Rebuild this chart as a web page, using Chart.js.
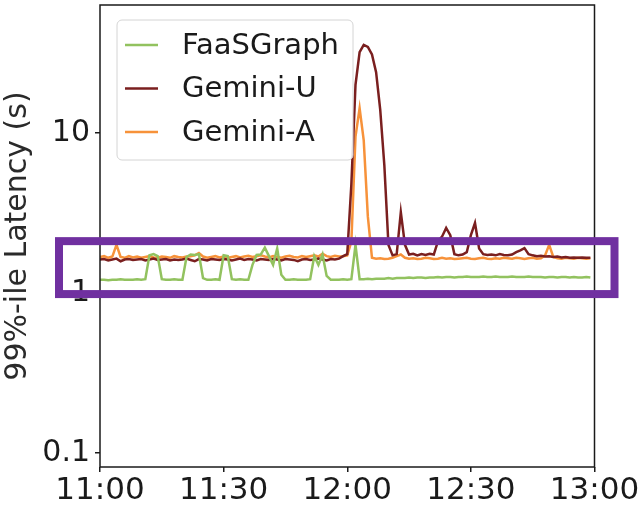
<!DOCTYPE html>
<html>
<head>
<meta charset="utf-8">
<script src="https://cdn.jsdelivr.net/npm/chart.js@4.4.1/dist/chart.umd.min.js"></script>
<style>
  html, body { margin: 0; padding: 0; background: #fff; }
  canvas { display: block; }
</style>
</head>
<body>
<canvas id="latencyChart" width="641" height="507"></canvas>
<script>
// minutes after 11:00, one sample per minute
const minutes = Array.from({ length: 120 }, (_, i) => i);

const faasGraph = [
  1.21, 1.21, 1.20, 1.21, 1.21, 1.22, 1.21, 1.21, 1.21, 1.22, 1.21,
  1.22, 1.72, 1.75, 1.70, 1.22,
  1.21, 1.21, 1.22, 1.21, 1.21,
  1.68, 1.74, 1.73, 1.75, 1.24,
  1.21, 1.21, 1.22, 1.21,
  1.72, 1.70, 1.22,
  1.21, 1.22, 1.21, 1.21,
  1.50, 1.73, 1.74, 1.92, 1.70, 1.50, 1.90, 1.30,
  1.21, 1.21, 1.22, 1.21, 1.21, 1.21, 1.22,
  1.70, 1.50, 1.74, 1.28,
  1.21, 1.21, 1.21, 1.22, 1.21, 1.22,
  2.00,
  1.22, 1.22, 1.23, 1.22, 1.23, 1.23, 1.23, 1.24, 1.23, 1.24,
  1.24, 1.24, 1.25, 1.24, 1.25, 1.25, 1.24, 1.25, 1.25, 1.26,
  1.25, 1.26, 1.26, 1.25, 1.26, 1.26, 1.27, 1.26, 1.26, 1.26,
  1.27, 1.26, 1.26, 1.27, 1.26, 1.26, 1.26, 1.27, 1.26, 1.26,
  1.26, 1.27, 1.26, 1.26, 1.26, 1.25, 1.26, 1.26, 1.25, 1.26,
  1.26, 1.25, 1.26, 1.25, 1.25, 1.26, 1.25
];

const geminiU = [
  1.62, 1.63, 1.60, 1.62, 1.64, 1.58, 1.62, 1.63, 1.61, 1.62,
  1.63, 1.60, 1.62, 1.64, 1.61, 1.62, 1.63, 1.60, 1.62, 1.61,
  1.62, 1.64, 1.61, 1.58, 1.63, 1.62, 1.60, 1.63, 1.62, 1.61,
  1.63, 1.62, 1.60, 1.62, 1.64, 1.61, 1.63, 1.62, 1.60, 1.63,
  1.62, 1.61, 1.63, 1.62, 1.60, 1.63, 1.62, 1.61, 1.58, 1.62,
  1.63, 1.61, 1.62, 1.64, 1.62, 1.60, 1.63, 1.62, 1.64, 1.70,
  1.75, 4.8, 20, 32, 35.5, 34.5, 31, 24, 14, 6.3,
  2.0, 1.72, 1.75, 3.2, 2.0, 1.74, 1.76, 1.72, 1.75, 1.73,
  1.76, 1.74, 2.1, 2.25, 2.55, 2.3, 1.75, 1.72, 1.74, 1.80,
  2.3, 2.74, 1.90, 1.75, 1.73, 1.74, 1.72, 1.75, 1.73, 1.72,
  1.74, 1.80, 1.85, 1.91, 1.75, 1.72, 1.70, 1.71, 1.69, 1.70,
  1.68, 1.69, 1.67, 1.68, 1.66, 1.67, 1.66, 1.67, 1.66, 1.66
];

const geminiA = [
  1.68, 1.70, 1.66, 1.69, 2.00, 1.68, 1.66, 1.70, 1.67, 1.69,
  1.66, 1.68, 1.70, 1.67, 1.66, 1.69, 1.68, 1.66, 1.70, 1.68,
  1.67, 1.69, 1.70, 1.72, 1.78, 1.69, 1.66, 1.68, 1.70, 1.67,
  1.69, 1.66, 1.68, 1.70, 1.67, 1.69, 1.71, 1.68, 1.70, 1.72,
  1.69, 1.67, 1.70, 1.68, 1.66, 1.69, 1.71, 1.68, 1.67, 1.70,
  1.68, 1.70, 1.72, 1.69, 1.76, 1.70, 1.68, 1.71, 1.69, 1.70,
  1.72, 2.1, 9.5, 14.3, 9.0, 3.0, 1.66, 1.64, 1.65, 1.63,
  1.64, 1.66, 1.70, 1.74, 1.66, 1.64, 1.65, 1.63, 1.64, 1.66,
  1.65, 1.63, 1.64, 1.66, 1.64, 1.65, 1.63, 1.64, 1.65, 1.66,
  1.64, 1.63, 1.65, 1.66, 1.64, 1.63, 1.65, 1.64, 1.66, 1.65,
  1.64, 1.66, 1.65, 1.63, 1.65, 1.66, 1.64, 1.65, 1.72, 2.00,
  1.68, 1.65, 1.64, 1.66, 1.65, 1.64, 1.66, 1.65, 1.64, 1.65
];

const seriesNames = ['FaaSGraph', 'Gemini-U', 'Gemini-A'];
const seriesColors = ['#92c25f', '#7a1f1f', '#f7923a'];
const xTicks = [0, 30, 60, 90, 120];
const yTicks = [0.1, 1, 10];
// purple highlight drawn over the plot, in latency units
const highlightRange = [0.985, 2.11];

const font = 'DejaVu Sans';
Chart.defaults.font.family = font;
Chart.defaults.color = '#1a1a1a';

const toPoints = vals => vals.map((v, i) => ({ x: minutes[i], y: v }));

// matplotlib-like frame, legend in the corner and the purple box
const overlay = {
    id: 'overlay',
    afterDatasetsDraw(chart) {
        const { ctx, chartArea: a } = chart;
        ctx.save();
        ctx.strokeStyle = '#1a1a1a';
        ctx.lineWidth = 1.5;
        ctx.strokeRect(a.left, a.top, a.right - a.left, a.bottom - a.top);

        // legend
        const lx = a.left + 17, ly = a.top + 15;
        ctx.beginPath();
        ctx.roundRect(lx, ly, 236, 140, 5);
        ctx.fillStyle = 'rgba(255,255,255,0.85)';
        ctx.fill();
        ctx.strokeStyle = '#d4d4d4';
        ctx.lineWidth = 1;
        ctx.stroke();
        ctx.font = '29px ' + font;
        ctx.textBaseline = 'middle';
        chart.data.datasets.forEach((ds, i) => {
            const y = ly + 25 + i * 43.5;
            ctx.strokeStyle = ds.borderColor;
            ctx.lineWidth = 2.5;
            ctx.beginPath();
            ctx.moveTo(lx + 8, y);
            ctx.lineTo(lx + 41, y);
            ctx.stroke();
            ctx.fillStyle = '#1a1a1a';
            ctx.fillText(ds.label, lx + 65, y + 1);
        });

        // highlight box
        const ys = chart.scales.y;
        const top = ys.getPixelForValue(highlightRange[1]);
        const bottom = ys.getPixelForValue(highlightRange[0]);
        ctx.strokeStyle = '#7030a0';
        ctx.lineWidth = 8;
        ctx.strokeRect(a.left - 41, top, a.right - a.left + 61, bottom - top);
        ctx.restore();
    }
};

new Chart(document.getElementById('latencyChart'), {
    type: 'line',
    data: {
        datasets: [faasGraph, geminiU, geminiA].map((vals, i) => ({
            label: seriesNames[i],
            data: toPoints(vals),
            borderColor: seriesColors[i],
            borderWidth: 2.5,
            pointRadius: 0,
            tension: 0,
            fill: false
        }))
    },
    options: {
        responsive: false,
        animation: false,
        devicePixelRatio: 1,
        layout: { padding: { left: 0, top: 5, right: 46.5, bottom: 0 } },
        plugins: { legend: { display: false }, tooltip: { enabled: false } },
        scales: {
            x: {
                type: 'linear',
                min: 0,
                max: 120,
                afterBuildTicks: s => { s.ticks = xTicks.map(v => ({ value: v })); },
                afterFit: s => { s.height = 40; s.paddingLeft = 0; s.paddingRight = 0; },
                border: { display: false },
                grid: { drawOnChartArea: false, drawTicks: true, tickLength: 5, color: '#1a1a1a', lineWidth: 1.5 },
                ticks: {
                    padding: 0,
                    maxRotation: 0,
                    autoSkip: false,
                    font: { size: 31 },
                    callback: v => `${11 + Math.floor(v / 60)}:${String(v % 60).padStart(2, '0')}`
                }
            },
            y: {
                type: 'logarithmic',
                min: 0.0818,
                max: 63.1,
                afterBuildTicks: s => { s.ticks = yTicks.map(v => ({ value: v })); },
                afterFit: s => { s.width = 100; s.paddingTop = 0; s.paddingBottom = 0; },
                border: { display: false },
                grid: { drawOnChartArea: false, drawTicks: true, tickLength: 5, color: '#1a1a1a', lineWidth: 1.5 },
                ticks: {
                    padding: 5,
                    autoSkip: false,
                    font: { size: 30 },
                    callback: v => String(v)
                },
                title: {
                    display: true,
                    text: '99%-ile Latency (s)',
                    font: { size: 30 },
                    color: '#2a2a2a',
                    padding: { top: 0, bottom: 0 }
                }
            }
        }
    },
    plugins: [overlay]
});
</script>
</body>
</html>
